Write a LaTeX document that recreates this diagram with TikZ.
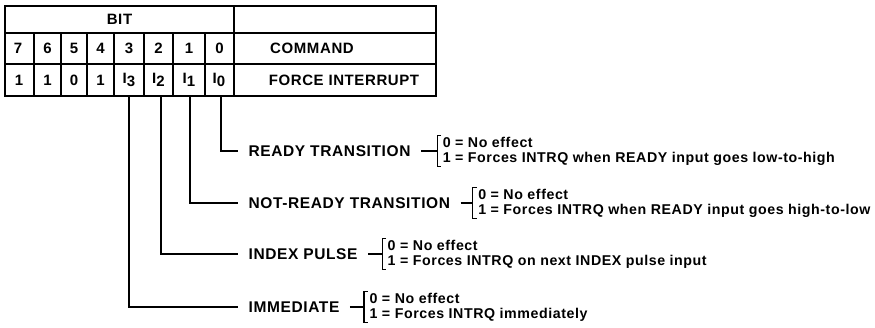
\documentclass[tikz,border=0pt]{standalone}
\usepackage{fontspec}
\setmainfont{Liberation Sans}[LetterSpace=4]
\usetikzlibrary{calc}
\begin{document}
\begin{tikzpicture}[x=1pt,y=-1pt,
  line width=1.2pt,
  cell/.style={font=\bfseries\fontsize{15}{16}\selectfont, inner sep=0pt},
  lbl/.style={anchor=west, inner xsep=10pt, inner ysep=0pt, font=\bfseries\fontsize{15.5}{17}\selectfont},
  opt/.style={anchor=west, align=left, inner xsep=5pt, inner ysep=0pt, font=\bfseries\fontsize{14.2}{15}\selectfont},
  wire/.style={line width=1.2pt}]
\useasboundingbox (0,0) rectangle (875,328);
% register table
\draw (5,6) rectangle (436,96);
\draw (5,33) -- (436,33);
\draw (5,64) -- (436,64);
\draw (234,6) -- (234,96);
\foreach \x in {34,61,87,114,144,173,205} \draw (\x,33) -- (\x,96);
\node[cell] (bit) at (119.5,19.5) {BIT};
\node[cell] (cmd) at (312,48.5) {COMMAND};
\node[cell] (fi) at (344,80) {FORCE INTERRUPT};
\foreach \n/\x in {7/18,6/47.5,5/74,4/100.5,3/129,2/158.5,1/189,0/219.5}
  \node[cell] (h\n) at (\x,48.5) {\n};
\node[cell] (v7) at (19,80) {1};
\node[cell] (v6) at (47.5,80) {1};
\node[cell] (v5) at (74,80) {0};
\node[cell] (v4) at (100.5,80) {1};
\node[cell] (v3) at (129,80) {I\raisebox{-3pt}{3}};
\node[cell] (v2) at (158.5,80) {I\raisebox{-3pt}{2}};
\node[cell] (v1) at (189,80) {I\raisebox{-3pt}{1}};
\node[cell] (v0) at (219,80) {I\raisebox{-3pt}{0}};
% taps below the bit cells
\coordinate (t3) at (129,96);
\coordinate (t2) at (161,96);
\coordinate (t1) at (190,96);
\coordinate (t0) at (221,96);
% field labels
\node[lbl] (l0) at (238,151) {READY TRANSITION};
\node[lbl] (l1) at (238,203) {NOT-READY TRANSITION};
\node[lbl] (l2) at (238,254) {INDEX PULSE};
\node[lbl] (l3) at (238,307) {IMMEDIATE};
\foreach \i in {0,...,3} \draw[wire] (t\i) |- (l\i.west);
% option lists with brackets
\node[opt] (o0) at ($(l0.east)+(16,0)$) {0 = No effect\\1 = Forces INTRQ when READY input goes low-to-high};
\node[opt] (o1) at ($(l1.east)+(12,0)$) {0 = No effect\\1 = Forces INTRQ when READY input goes high-to-low};
\node[opt] (o2) at ($(l2.east)+(14,0)$) {0 = No effect\\1 = Forces INTRQ on next INDEX pulse input};
\node[opt] (o3) at ($(l3.east)+(14,0)$) {0 = No effect\\1 = Forces INTRQ immediately};
\foreach \i in {0,...,3} {
  \draw[wire] (l\i.east) -- (o\i.west);
  \draw[wire] ($(o\i.north west)+(4,-1)$) -- ($(o\i.north west)+(0,-1)$) -- ($(o\i.south west)+(0,1)$) -- ++(4,0);
}
\end{tikzpicture}
\end{document}
